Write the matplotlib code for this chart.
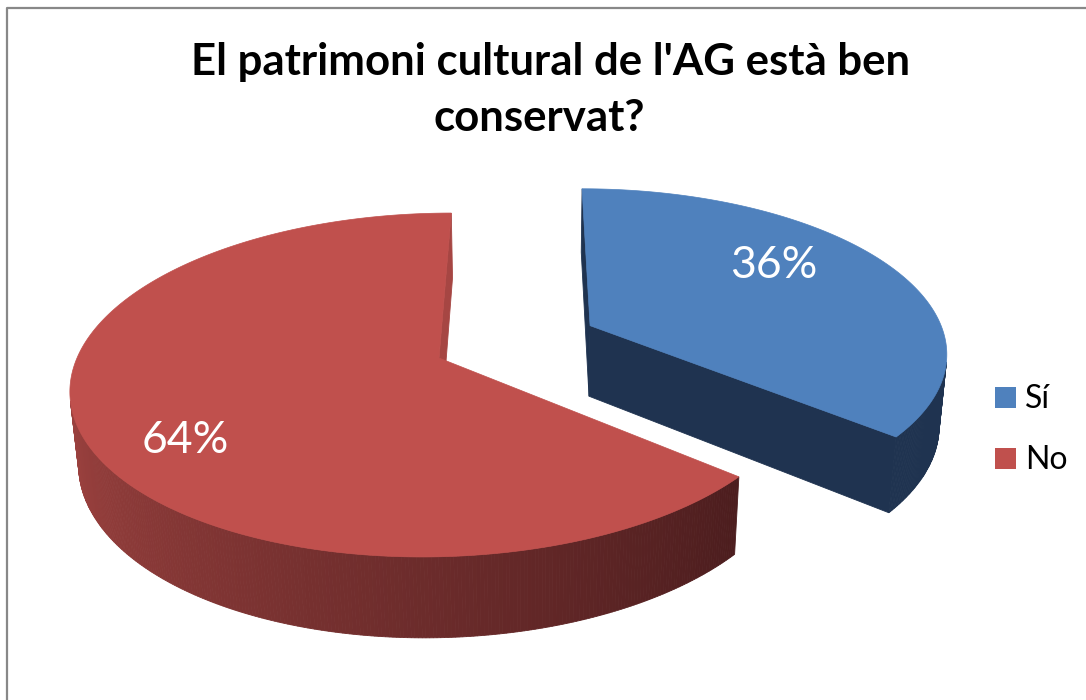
import numpy as np
import matplotlib.pyplot as plt
from matplotlib.patches import Polygon, Rectangle
from matplotlib.colors import to_rgb

# data
labels = ["Sí", "No"]
values = [36, 64]
pct_text = ["36%", "64%"]
top_colors = ["#4F81BD", "#C0504D"]
wall_light = ["#1F3350", "#A64643"]
wall_dark = ["#1F3350", "#4C1D1E"]
explode = [0.467, 0.0]
title_lines = ["El patrimoni cultural de l'AG està ben", "conservat?"]

# layout in pixels (image coords, y down)
W, H_PX = 1086, 700
label_xy = [(774, 278), (185, 453)]
title_xy = [(551, 75), (539, 131)]

# 3d view of the pie (radius = 1)
S = 362.0
PHI = np.radians(27.6)
DIST = 5.645
XC = 0.25
X0, Y0 = 529.5, 358.0
DEPTH = 0.229
START = 90.0

cosp, sinp = np.cos(PHI), np.sin(PHI)
cam = np.array([XC, -DIST * cosp, DIST * sinp])


def project(pts):
    pts = np.asarray(pts, dtype=float)
    x, y, z = pts[:, 0], pts[:, 1], pts[:, 2]
    v = y * sinp + z * cosp
    w = DIST + y * cosp - z * sinp
    f = DIST / w
    return np.column_stack([X0 + S * (x - XC) * f, Y0 - S * v * f])


def depth(pts):
    pts = np.asarray(pts, dtype=float)
    return np.mean(DIST + pts[:, 1] * cosp - pts[:, 2] * sinp)


def mix(c1, c2, t):
    a, b = np.array(to_rgb(c1)), np.array(to_rgb(c2))
    return tuple(a + (b - a) * t)


plt.rcParams["font.family"] = ["Lato", "DejaVu Sans"]
fig = plt.figure(figsize=(W / 100, H_PX / 100), dpi=100)
ax = fig.add_axes([0, 0, 1, 1])
ax.set_xlim(0, W)
ax.set_ylim(H_PX, 0)
ax.axis("off")

total = sum(values)
a0 = START
for i, val in enumerate(values):
    a1 = a0 - 360.0 * val / total
    mid = np.radians((a0 + a1) / 2)
    ox, oy = explode[i] * np.cos(mid), explode[i] * np.sin(mid)
    th = np.radians(np.linspace(a0, a1, max(int(abs(a1 - a0) * 2), 8)))
    rim = np.column_stack([ox + np.cos(th), oy + np.sin(th), np.zeros_like(th)])
    low = rim - [0, 0, DEPTH]
    centre = np.array([ox, oy, 0.0])
    centre_low = centre - [0, 0, DEPTH]

    walls = []
    # outer curved wall, split in thin quads
    for j in range(len(th) - 1):
        tm = (th[j] + th[j + 1]) / 2
        n = np.array([np.cos(tm), np.sin(tm), 0])
        quad = [rim[j], rim[j + 1], low[j + 1], low[j]]
        if np.dot(n, cam - rim[j]) > 0:
            t = np.clip(((np.degrees(tm) % 360) - 180) / 140, 0, 1)
            walls.append((depth(quad), quad, mix(wall_light[i], wall_dark[i], t)))
    # the two flat cut walls
    for k, sign in ((0, 1), (-1, -1)):
        ang = th[k]
        n = sign * np.array([-np.sin(ang), np.cos(ang), 0])
        quad = [centre, rim[k], low[k], centre_low]
        if np.dot(n, cam - centre) > 0:
            walls.append((depth(quad), quad, to_rgb(wall_light[i])))

    walls.sort(key=lambda item: -item[0])
    for _, quad, col in walls:
        ax.add_patch(Polygon(project(quad), closed=True, facecolor=col,
                             edgecolor=col, lw=0.6))

    top = np.vstack([centre, rim])
    ax.add_patch(Polygon(project(top), closed=True, facecolor=top_colors[i],
                         edgecolor=top_colors[i], lw=0.5))
    a0 = a1

# percentage labels
for (x, y), txt in zip(label_xy, pct_text):
    ax.text(x, y, txt, color="white", fontsize=32, ha="center", va="baseline")

# title
for (x, y), line in zip(title_xy, title_lines):
    ax.text(x, y, line, fontsize=31.5, fontweight="bold", ha="center",
            va="baseline", color="black")

# legend
for i, lab in enumerate(labels):
    y = 387 + 61 * i
    ax.add_patch(Rectangle((995, y), 21, 21, facecolor=top_colors[i],
                           edgecolor="none"))
    ax.text(1025, y + 21, lab, fontsize=23, ha="left", va="baseline",
            color="black")

# chart border (only left and top are inside the picture)
ax.plot([7, 7, W], [H_PX, 8, 8], color="#888888", lw=1.6)

fig.savefig("out.png", dpi=100, facecolor="white")
